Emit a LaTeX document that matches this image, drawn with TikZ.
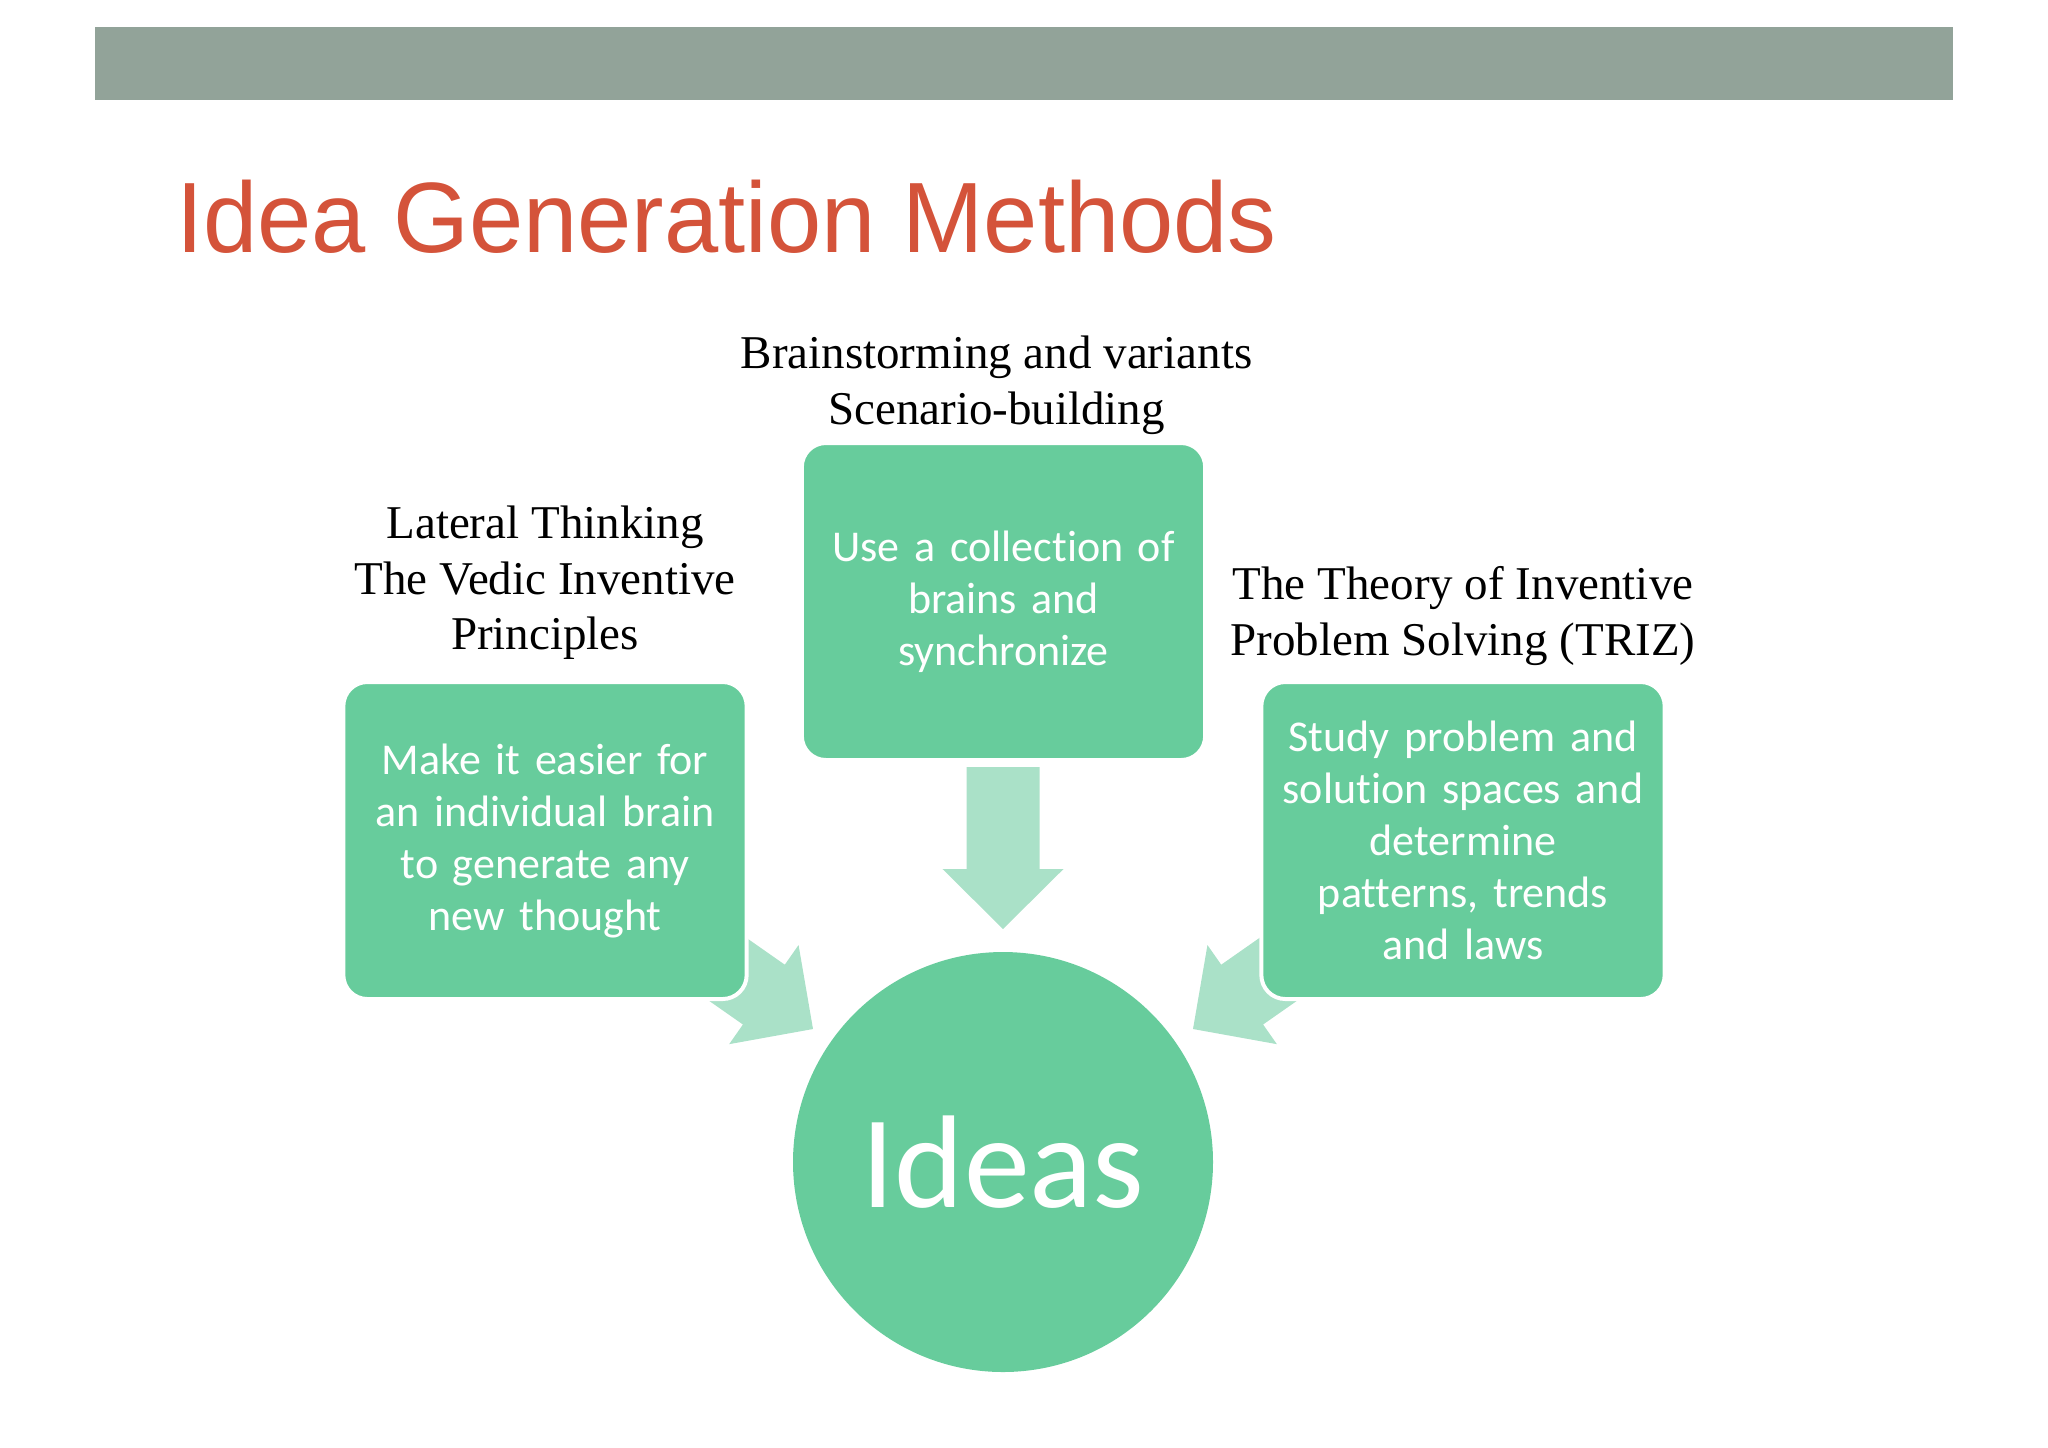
\documentclass[tikz,border=0pt]{standalone}
\usepackage{fontspec}
\setmainfont{Liberation Serif}
\newfontfamily\calfont[Ligatures=NoCommon]{Carlito}
\newfontfamily\headfont{Liberation Sans}
\usetikzlibrary{positioning}

\definecolor{barcol}{RGB}{146,163,153}
\definecolor{titlecol}{RGB}{212,83,58}
\definecolor{boxcol}{RGB}{103,204,156}
\definecolor{arrcol}{RGB}{170,225,200}

\begin{document}
\begin{tikzpicture}[x=0.5pt,y=-0.5pt,
    gbox/.style={rectangle,rounded corners=12pt,fill=boxcol,draw=white,line width=2pt,
      minimum width=199pt,minimum height=158.5pt,text width=195pt,align=center,
      text=white,font=\calfont\fontsize{22}{26}\selectfont},
    lbl/.style={align=center,inner sep=0pt,font=\fontsize{23.5}{27.75}\selectfont},
    arr/.style={fill=arrcol}
  ]
  \useasboundingbox (0,0) rectangle (2048,1447);
  \fill[barcol] (95,27) rectangle (1953,100);
  \node[anchor=base west,inner sep=0pt,text=titlecol,font=\headfont\fontsize{50}{56}\selectfont]
    (title) at (176,252) {\scalebox{0.975}[1]{Idea Generation Methods}};

  % arrows into the circle, tip at origin
  \foreach \tx/\ty/\ang in {1003/929/0, 813/1029/55, 1193/1029/-55}{
    \fill[arr,shift={(\tx,\ty)},rotate=\ang] (0,0) -- (60.5,-60) -- (36.5,-60) -- (36.5,-162)
      -- (-36.5,-162) -- (-36.5,-60) -- (-60.5,-60) -- cycle;
  }

  \node[gbox] (lb) at (545,840.5) {Make it easier for\\an individual brain\\to generate any\\new thought};
  \node[gbox] (cb) at (1003.5,601.5) {Use a collection of\\brains and\\synchronize};
  \node[gbox] (rb) at (1463,840.5) {Study problem and\\solution spaces and\\determine\\patterns, trends\\and laws};
  \node[circle,fill=boxcol,minimum size=210pt,text=white,
    font=\calfont\fontsize{66}{70}\selectfont] (ideas) at (1003,1162) {Ideas};

  \node[lbl,above=10pt of lb] (lbt) {Lateral Thinking\\The Vedic Inventive\\Principles};
  \node[lbl,above=3pt of cb,xshift=-3.5pt] (cbt) {Brainstorming and variants\\Scenario-building};
  \node[lbl,above=7pt of rb] (rbt) {The Theory of Inventive\\Problem Solving (TRIZ)};
\end{tikzpicture}
\end{document}
